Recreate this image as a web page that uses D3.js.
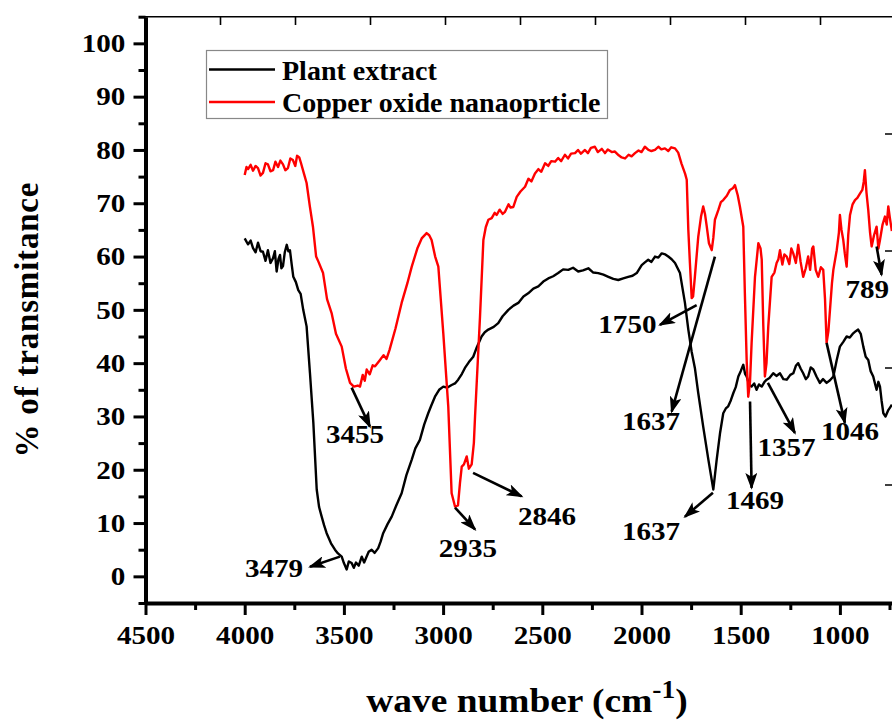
<!DOCTYPE html>
<html>
<head>
<meta charset="utf-8">
<script src="https://cdn.jsdelivr.net/npm/d3@7"></script>
<style>
  body { margin: 0; background: #fff; }
  text { font-family: "Liberation Serif", "Times New Roman", serif; font-weight: bold; fill: #000; }
</style>
</head>
<body>
<div id="chart"></div>
<script>
// FTIR spectra, [wave number, % transmittance]
const plantExtract = [
  [4000,63.4],[3991,62.8],[3983,62.3],[3970,63.0],[3958,61.6],[3945,60.8],[3933,62.6],[3920,61.0],[3908,60.9],
  [3895,59.2],[3883,61.2],[3870,58.8],[3857,59.7],[3848,61.0],[3839,57.2],[3830,59.5],[3822,60.3],[3815,57.8],
  [3807,58.2],[3798,60.8],[3788,62.2],[3780,61.0],[3772,61.2],[3763,58.5],[3755,56.2],[3742,55.2],[3730,53.7],
  [3718,53.0],[3705,50.0],[3688,46.9],[3671,38.1],[3654,28.8],[3637,16.3],[3625,13.0],[3612,11.2],[3600,9.6],
  [3587,8.1],[3565,6.2],[3545,5.0],[3530,4.3],[3511,3.7],[3500,2.5],[3486,1.3],[3475,2.8],[3461,2.5],[3450,1.6],
  [3439,2.6],[3425,2.0],[3410,3.7],[3398,2.6],[3389,3.4],[3375,4.6],[3360,5.0],[3345,4.4],[3327,5.3],[3315,6.5],
  [3302,8.1],[3280,9.8],[3259,11.2],[3235,13.4],[3209,15.6],[3185,19.0],[3158,21.9],[3140,24.0],[3117,25.6],
  [3095,28.5],[3075,30.6],[3060,32.0],[3041,33.7],[3020,35.0],[2999,35.6],[2980,35.4],[2957,35.9],[2940,36.2],
  [2924,36.9],[2905,38.0],[2890,39.1],[2870,40.2],[2848,41.2],[2830,43.0],[2806,45.0],[2790,45.8],[2772,46.3],
  [2745,46.8],[2722,47.5],[2700,48.8],[2671,50.0],[2645,50.8],[2621,51.3],[2595,52.5],[2571,53.1],[2545,54.0],
  [2520,54.4],[2495,55.3],[2470,55.9],[2445,56.3],[2420,56.9],[2395,57.6],[2369,57.5],[2345,57.9],[2319,57.2],
  [2295,57.4],[2268,57.8],[2243,57.0],[2218,56.9],[2192,56.6],[2167,56.2],[2142,55.8],[2117,55.6],[2092,55.9],
  [2067,56.2],[2045,56.4],[2024,56.9],[1999,58.4],[1983,58.9],[1966,59.4],[1950,59.0],[1932,60.0],[1915,59.8],
  [1898,60.6],[1880,60.4],[1865,60.0],[1848,59.5],[1831,58.8],[1806,56.9],[1781,51.3],[1764,46.3],[1747,42.1],
  [1731,39.1],[1714,34.4],[1689,28.1],[1663,21.9],[1638,16.3],[1621,21.9],[1604,26.9],[1588,30.6],[1575,31.5],
  [1563,31.9],[1550,33.0],[1537,34.4],[1525,35.5],[1512,37.5],[1500,38.5],[1487,39.7],[1478,38.0],[1470,37.5],
  [1458,36.0],[1445,35.6],[1432,36.2],[1420,35.0],[1408,36.0],[1394,35.6],[1380,36.5],[1369,36.9],[1355,37.2],
  [1336,38.1],[1320,37.6],[1302,38.1],[1285,37.0],[1268,36.9],[1250,37.8],[1235,38.1],[1222,39.5],[1210,40.0],
  [1198,39.0],[1185,38.1],[1172,37.0],[1160,37.5],[1147,39.2],[1134,38.8],[1118,37.5],[1101,36.3],[1085,37.0],
  [1067,36.3],[1050,36.8],[1033,37.5],[1016,40.6],[1000,43.1],[983,44.0],[966,45.0],[950,44.8],[933,45.6],
  [920,46.0],[908,46.3],[895,45.5],[882,43.1],[870,41.2],[857,40.6],[845,38.5],[832,37.5],[822,36.0],[815,35.0],
  [806,36.5],[798,35.6],[790,33.0],[781,30.6],[770,30.0],[756,31.2],[745,31.8],[738,32.2]
];

const copperOxide = [
  [4000,75.3],[3991,76.8],[3983,76.4],[3970,77.2],[3958,76.1],[3945,77.0],[3933,76.6],[3920,75.2],[3908,75.7],
  [3895,77.5],[3883,77.3],[3870,76.0],[3857,76.2],[3845,77.8],[3832,76.8],[3820,78.0],[3807,77.3],[3795,76.2],
  [3782,76.6],[3770,78.4],[3757,78.1],[3745,77.0],[3736,78.9],[3725,78.6],[3716,77.5],[3701,75.5],[3688,73.8],
  [3672,69.5],[3656,65.6],[3640,60.0],[3628,59.0],[3605,56.9],[3585,52.0],[3562,49.4],[3540,45.5],[3511,43.1],
  [3490,39.0],[3469,36.3],[3450,35.6],[3430,35.8],[3419,35.6],[3405,37.8],[3395,36.7],[3385,38.8],[3370,37.9],
  [3355,39.6],[3343,39.4],[3320,40.5],[3300,41.5],[3285,40.8],[3270,42.5],[3240,46.5],[3209,51.3],[3180,55.0],
  [3158,58.1],[3130,61.5],[3108,63.4],[3083,64.4],[3070,64.0],[3058,63.1],[3040,60.0],[3024,58.1],[2999,45.6],
  [2974,31.9],[2957,15.6],[2940,13.1],[2925,13.3],[2915,17.5],[2906,20.6],[2895,21.0],[2881,22.5],[2870,20.2],
  [2856,21.0],[2845,25.0],[2839,30.0],[2814,48.7],[2797,63.1],[2785,65.5],[2772,66.9],[2755,67.2],[2740,68.2],
  [2730,67.8],[2715,68.8],[2700,68.0],[2688,68.4],[2670,69.8],[2660,69.2],[2646,69.3],[2629,71.2],[2610,72.2],
  [2587,73.1],[2570,74.6],[2555,74.1],[2537,75.6],[2520,76.4],[2505,75.9],[2486,77.5],[2470,77.0],[2455,77.9],
  [2436,77.8],[2420,78.5],[2405,77.9],[2386,79.1],[2370,78.4],[2355,79.3],[2335,79.4],[2320,80.0],[2305,79.3],
  [2285,80.0],[2270,79.4],[2255,80.4],[2235,80.6],[2220,79.6],[2200,80.2],[2184,79.4],[2170,80.1],[2150,79.6],
  [2134,79.7],[2115,79.0],[2100,78.6],[2083,78.4],[2065,79.1],[2050,78.8],[2033,79.4],[2015,79.9],[2000,79.6],
  [1983,80.6],[1965,80.0],[1950,79.8],[1932,80.0],[1915,80.6],[1900,80.1],[1882,80.3],[1865,79.8],[1850,80.5],
  [1831,80.3],[1815,79.5],[1798,77.4],[1780,75.5],[1772,74.4],[1764,65.0],[1756,58.8],[1747,52.2],[1740,52.5],
  [1731,56.2],[1714,63.7],[1700,67.5],[1689,69.4],[1680,68.0],[1671,65.6],[1660,62.5],[1646,61.2],[1638,63.5],
  [1630,66.9],[1613,68.7],[1600,70.2],[1588,70.6],[1570,71.4],[1554,72.5],[1540,72.8],[1529,73.4],[1515,71.5],
  [1504,69.4],[1487,65.6],[1479,53.1],[1470,40.6],[1462,33.7],[1453,36.5],[1445,43.8],[1428,56.2],[1411,62.5],
  [1400,61.5],[1394,59.4],[1386,46.9],[1378,37.5],[1370,40.0],[1361,46.9],[1344,56.2],[1330,57.0],[1319,58.8],
  [1310,59.5],[1302,61.2],[1290,58.5],[1280,60.4],[1268,60.0],[1255,58.6],[1245,61.5],[1235,60.6],[1222,58.8],
  [1210,62.2],[1198,59.0],[1185,56.2],[1172,57.8],[1160,60.0],[1150,57.5],[1140,61.5],[1134,61.9],[1122,57.5],
  [1109,56.2],[1096,58.0],[1084,57.5],[1075,52.0],[1067,43.8],[1058,46.0],[1050,50.0],[1040,55.0],[1033,57.5],
  [1016,61.2],[1005,64.5],[1000,67.8],[992,65.0],[983,63.1],[975,60.5],[966,58.1],[958,64.0],[949,67.8],
  [936,69.8],[924,70.6],[912,71.0],[899,71.8],[887,72.5],[880,74.0],[874,76.2],[866,72.0],[857,68.7],[848,64.5],
  [840,61.9],[828,64.0],[815,65.6],[806,61.5],[798,63.1],[785,66.0],[773,67.5],[764,66.0],[756,69.4],[748,67.2],
  [738,64.8]
];

// peak labels: text, arrow start, arrow end, label anchor (all in data units)
const peakLabels = [
  { text: "3479", from: [3520, 3.7],  to: [3671, 1.8],  at: [3852, -0.2] },
  { text: "3455", from: [3461, 35.4], to: [3369, 28.1], at: [3444, 25.1] },
  { text: "2935", from: [2940, 12.9], to: [2839, 8.8],  at: [2875, 3.7] },
  { text: "2846", from: [2849, 19.4], to: [2604, 15.0], at: [2476, 9.7] },
  { text: "1750", from: [1722, 50.9], to: [1907, 47.2], at: [2071, 45.7] },
  { text: "1637", from: [1630, 60.0], to: [1848, 30.9], at: [1952, 27.5] },
  { text: "1637", from: [1640, 15.7], to: [1781, 11.2], at: [1952, 6.9] },
  { text: "1469", from: [1453, 32.8], to: [1445, 16.6], at: [1428, 12.7] },
  { text: "1357", from: [1363, 36.3], to: [1227, 26.9], at: [1269, 22.5] },
  { text: "1046", from: [1067, 43.8], to: [975, 28.8],  at: [949, 25.6] },
  { text: "789",  from: [815, 61.9],  to: [790, 56.6],  at: [862, 52.3] }
];

const seriesNames = ["Plant extract", "Copper oxide nanaoprticle"];
const seriesColors = ["#000000", "#ff0000"];
const xTicks = [4500, 4000, 3500, 3000, 2500, 2000, 1500, 1000];
const xMinor = d3.range(4250, 700, -500);
const yTicks = d3.range(0, 101, 10);
const yMinor = d3.range(-5, 106, 10);

const width = 892, height = 720;
const stretch = 1.12; // the original figure is slightly widened
const svg = d3.select("#chart").append("svg")
  .attr("width", width).attr("height", height)
  .style("background", "#fff");

const x = d3.scaleLinear().domain([4500, 400]).range([145.5, 145.5 + 4100 * 0.1984]);
const y = d3.scaleLinear().domain([-5, 105]).range([603, 16.7]);

// arrow head
svg.append("defs").append("marker")
  .attr("id", "arrow").attr("markerUnits", "userSpaceOnUse")
  .attr("markerWidth", 18).attr("markerHeight", 12)
  .attr("refX", 15).attr("refY", 6).attr("orient", "auto")
  .append("path").attr("d", "M0,0 L17,6 L0,12 L4,6 Z").attr("fill", "#000");

// top frame line with its own ticks
svg.append("line").attr("x1", 145).attr("x2", width).attr("y1", 16.7).attr("y2", 16.7)
  .attr("stroke", "#000").attr("stroke-width", 1.6);
const topTicks = d3.scaleLinear().domain([0, 1]).range([145.5, 220.5]);
svg.append("g").selectAll("line").data(d3.range(1, 11)).join("line")
  .attr("x1", d => topTicks(d)).attr("x2", d => topTicks(d))
  .attr("y1", 16.7).attr("y2", 25).attr("stroke", "#000").attr("stroke-width", 1.6);

// right side ticks peeking in from the clipped right axis
const rightTicks = d3.scaleLinear().domain([0, 1]).range([485, 368]);
svg.append("g").selectAll("line").data([0, 1, 2, 3]).join("line")
  .attr("x1", 885).attr("x2", width)
  .attr("y1", d => rightTicks(d)).attr("y2", d => rightTicks(d))
  .attr("stroke", "#000").attr("stroke-width", 1.5);

// curves
const line = d3.line().x(d => x(d[0])).y(d => y(d[1]));
[plantExtract, copperOxide].forEach((s, i) => {
  svg.append("path").datum(s)
    .attr("fill", "none").attr("stroke", seriesColors[i])
    .attr("stroke-width", 2.4).attr("stroke-linejoin", "round")
    .attr("d", line);
});

// annotations
const ann = svg.append("g");
ann.selectAll("line").data(peakLabels).join("line")
  .attr("x1", d => x(d.from[0])).attr("y1", d => y(d.from[1]))
  .attr("x2", d => x(d.to[0])).attr("y2", d => y(d.to[1]))
  .attr("stroke", "#000").attr("stroke-width", 2.6)
  .attr("marker-end", "url(#arrow)");
ann.selectAll("text").data(peakLabels).join("text")
  .attr("transform", d => `translate(${x(d.at[0])},${y(d.at[1])}) scale(${stretch},1)`)
  .attr("text-anchor", "middle").style("font-size", "26px")
  .text(d => d.text);

// bottom axis
const xAxis = svg.append("g").attr("transform", "translate(0,603)")
  .call(d3.axisBottom(x).tickValues(xTicks).tickSize(12).tickSizeOuter(0).tickPadding(11).tickFormat(d3.format("d")));
svg.append("g").attr("transform", "translate(0,603)")
  .call(d3.axisBottom(x).tickValues(xMinor).tickSize(7).tickSizeOuter(0).tickFormat(""))
  .select(".domain").remove();

// left axis
const yAxis = svg.append("g").attr("transform", "translate(145.5,0)")
  .call(d3.axisLeft(y).tickValues(yTicks).tickSize(12).tickSizeOuter(0).tickPadding(6));
svg.append("g").attr("transform", "translate(145.5,0)")
  .call(d3.axisLeft(y).tickValues(yMinor).tickSize(7).tickSizeOuter(0).tickFormat(""))
  .select(".domain").remove();

svg.selectAll(".tick line").attr("stroke-width", 3);
svg.selectAll(".tick text")
  .style("font-size", "26px").style("font-family", "'Liberation Serif', serif")
  .attr("transform", `scale(${stretch},1)`);
[xAxis, yAxis].forEach(a => a.select(".domain").attr("stroke-width", 4));

// axis titles
svg.append("text")
  .attr("transform", "translate(38,320) rotate(-90)")
  .attr("text-anchor", "middle").style("font-size", "33px")
  .attr("textLength", 275).attr("lengthAdjust", "spacing")
  .text("% of transmitance");

const xt = svg.append("text")
  .attr("transform", `translate(527,712) scale(1.1,1)`)
  .attr("text-anchor", "middle").style("font-size", "34px");
xt.append("tspan").text("wave number (cm");
xt.append("tspan").attr("dy", -14).style("font-size", "25px").text("-1");
xt.append("tspan").attr("dy", 14).text(")");

// legend
const lg = svg.append("g");
lg.append("rect").attr("x", 206.5).attr("y", 50.5).attr("width", 401).attr("height", 68)
  .attr("fill", "#fff").attr("stroke", "#888").attr("stroke-width", 1.2);
seriesNames.forEach((n, i) => {
  const yy = 69.5 + i * 32.5;
  lg.append("line").attr("x1", 209).attr("x2", 275).attr("y1", yy).attr("y2", yy)
    .attr("stroke", seriesColors[i]).attr("stroke-width", 2.4);
  lg.append("text").attr("x", 282).attr("y", yy + 10).style("font-size", "28px").text(n);
});
</script>
</body>
</html>
